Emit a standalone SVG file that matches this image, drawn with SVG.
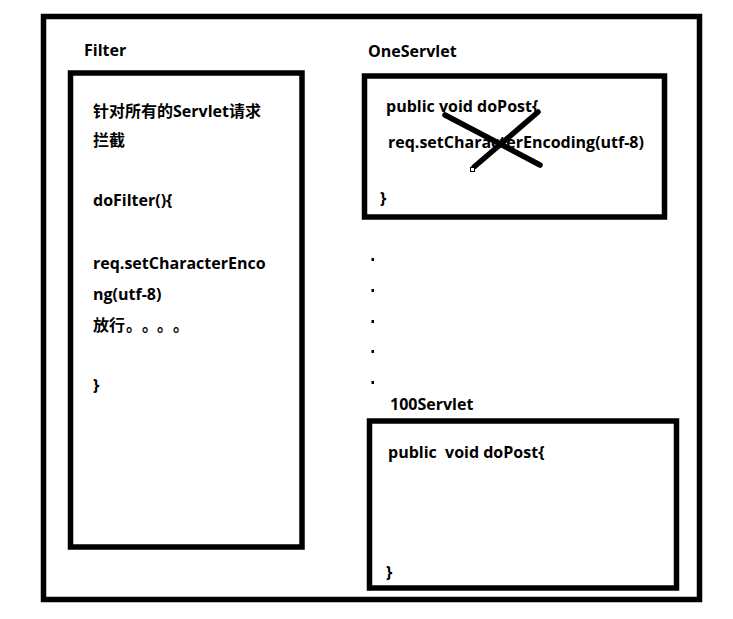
<svg xmlns="http://www.w3.org/2000/svg" width="733" height="619" viewBox="0 0 733 619">
<style>
.box{fill:none;stroke:#000;stroke-width:5.5}
.t{font-family:"Open Sans","Noto Sans CJK SC",sans-serif;font-weight:bold;font-size:16px;fill:#000}
.cjk{font-family:"Noto Sans CJK SC",sans-serif;font-weight:bold}
.x{stroke:#000;stroke-width:5.5;stroke-linecap:round}
.dot{fill:#000}
</style>
<rect width="733" height="619" fill="#fff"/>
<g id="outer">
<rect class="box" x="43.5" y="16.5" width="656" height="583" stroke-width="5"/>
</g>
<g id="filter">
<text class="t" x="84" y="56">Filter</text>
<rect class="box" x="70.5" y="73" width="231.5" height="474"/>
<text class="t" x="93" y="117"><tspan class="cjk">针对所有的</tspan>Servlet<tspan class="cjk">请求</tspan></text>
<text class="t cjk" x="93" y="146">拦截</text>
<text class="t" x="93" y="206">doFilter(){</text>
<text class="t" x="93" y="269">req.setCharacterEnco</text>
<text class="t" x="93" y="300">ng(utf-8)</text>
<text class="t cjk" x="93 109 126 142 157 173" y="331">放行。。。。</text>
<text class="t" x="93" y="391">}</text>
</g>
<g id="oneServlet">
<text class="t" x="368" y="57">OneServlet</text>
<rect class="box" x="364.5" y="76" width="300" height="141"/>
<text class="t" x="386" y="112">public void doPost{</text>
<text class="t" x="388" y="148">req.setCharacterEncoding(utf-8)</text>
<text class="t" x="380" y="204">}</text>
</g>
<g id="cross">
<line class="x" x1="445" y1="115" x2="540" y2="165"/>
<line class="x" x1="538" y1="112" x2="474" y2="167"/>
<rect x="470.5" y="167.5" width="4" height="4" fill="#fff" stroke="#000" stroke-width="1"/>
</g>
<g id="ellipsis">
<rect class="dot" x="371.5" y="258" width="2.5" height="3"/>
<rect class="dot" x="371.5" y="289" width="2.5" height="3"/>
<rect class="dot" x="371.5" y="320" width="2.5" height="3"/>
<rect class="dot" x="371.5" y="350" width="2.5" height="3"/>
<rect class="dot" x="371.5" y="381" width="2.5" height="3"/>
</g>
<g id="servlet100">
<text class="t" x="390" y="410">100Servlet</text>
<rect class="box" x="369.5" y="421" width="307" height="167"/>
<text class="t" x="388" y="458" xml:space="preserve">public  void doPost{</text>
<text class="t" x="386" y="578">}</text>
</g>
</svg>
